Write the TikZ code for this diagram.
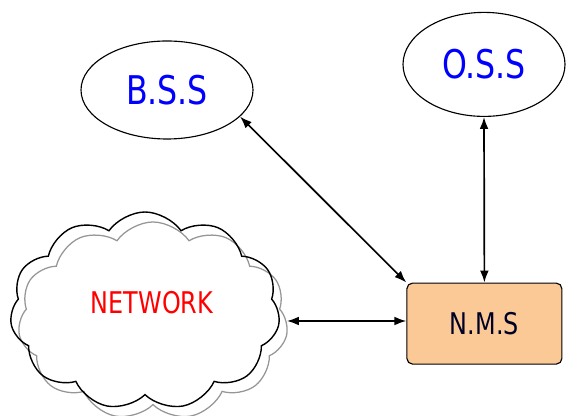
\documentclass[tikz,border=0pt]{standalone}
\usepackage{fontspec}
\usepackage{graphicx}
\usepackage{tikz}
\usetikzlibrary{positioning, arrows.meta, calc}
\usetikzlibrary{shapes.geometric, shapes.symbols}
\newfontfamily\labelfont{DejaVu Sans}
\definecolor{cNMS}{RGB}{250,201,150}
\definecolor{cShadow}{RGB}{150,150,150}
\newcommand{\tall}[1]{\scalebox{1}[1.25]{#1}}

\begin{document}
\begin{tikzpicture}[>={Latex[length=3mm, width=2.2mm]}]

    \useasboundingbox (0, 0) rectangle (14.325, 10.4);

    % --- Systems on top ---
    \node[ellipse, draw, thick, minimum width=4.3cm, minimum height=2.45cm,
          text=blue, font=\labelfont\fontsize{22.5}{26}\selectfont] (bss) at (4.175, 8.15) {\tall{B.S.S}};
    \node[ellipse, draw, thick, minimum width=4.05cm, minimum height=2.6cm,
          text=blue, font=\labelfont\fontsize{22.5}{26}\selectfont] (oss) at (12.1, 8.79) {\tall{O.S.S}};

    % --- Management station ---
    \node[draw, thick, fill=cNMS, rounded corners=4pt, minimum width=3.875cm, minimum height=2.025cm,
          text=black!85!blue, font=\labelfont\fontsize{17}{20}\selectfont] (nms) at (12.11, 2.31) {\tall{N.M.S}};

    % --- Network cloud (grey copy behind) ---
    \node[cloud, cloud puffs=11, cloud puff arc=110, draw=cShadow, line width=0.9pt,
          minimum width=6.75cm, minimum height=4.95cm] (netshadow) at (3.825, 2.375) {};
    \node[cloud, cloud puffs=11, cloud puff arc=110, draw, line width=1pt,
          minimum width=6.75cm, minimum height=4.95cm] (net) at (3.625, 2.625) {};
    \node[text=red, font=\labelfont\fontsize{17}{20}\selectfont] (nettext) at (3.8, 2.825) {\tall{NETWORK}};

    % --- Links ---
    \draw[line width=1.2pt, <->] (bss.-20) -- (nms.north west);
    \draw[line width=1.2pt, <->] (oss.south) -- (nms.north);
    \draw[line width=1.2pt, <->] (netshadow.east) -- (netshadow.east -| nms.west);

\end{tikzpicture}
\end{document}
